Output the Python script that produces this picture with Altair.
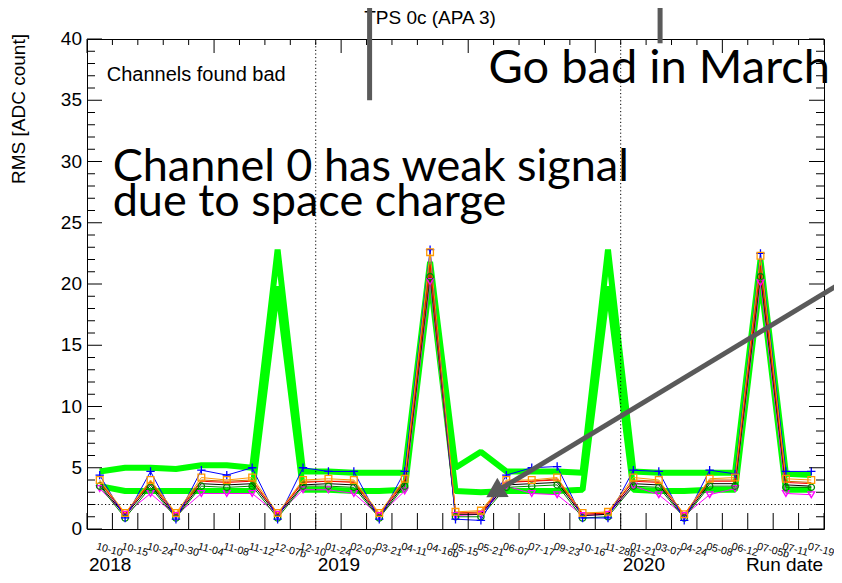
import altair as alt
import pandas as pd

# ---------------- data ----------------
run_labels = ["10-10", "10-15", "10-24", "10-30", "11-04", "11-08", "11-12", "12-07b", "12-10",
              "01-24", "02-07", "03-21", "04-11", "04-16b", "05-15", "05-21", "06-07", "07-17",
              "09-23", "10-16", "11-28b", "01-21", "03-07", "04-24", "05-08", "06-12", "07-05b",
              "07-11", "07-19"]
years = ["2018", "2019", "2020"]
year_first_bin = [0, 9, 21]
year_boundaries = [9, 21]
threshold = [2.0]
y_major = [0, 5, 10, 15, 20, 25, 30, 35, 40]

# thick green: channels found bad
bad_upper = [4.7, 5.0, 5.0, 4.9, 5.2, 5.2, 5.0, 22.8, 4.7, 4.7, 4.6, 4.6, 4.6, 21.8, 5.0, 6.3,
             4.7, 4.7, 4.7, 4.6, 22.8, 4.7, 4.6, 4.6, 4.6, 4.6, 22.0, 4.5, 4.4]
bad_lower = [3.5, 3.1, 3.1, 3.1, 3.1, 3.1, 3.1, 19.8, 3.2, 3.2, 3.1, 3.1, 3.2, 20.5, 3.1, 3.0,
             3.1, 3.1, 3.1, 3.2, 19.8, 3.2, 3.1, 3.1, 3.2, 3.2, 20.5, 3.2, 3.2]

# thin channel series
ch_magenta = [3.3, 1.2, 2.9, 1.1, 2.9, 2.9, 2.9, 1.2, 3.2, 3.2, 2.9, 1.1, 3.1, 20.2, 1.1, 1.2,
              3.5, 2.9, 2.8, 1.1, 1.2, 3.5, 2.8, 1.1, 2.8, 3.3, 20.1, 2.9, 2.8]
ch_dkgreen = [3.5, 0.9, 3.4, 0.9, 3.5, 3.4, 3.5, 0.9, 3.5, 3.5, 3.4, 0.9, 3.5, 20.6, 1.0, 1.0,
              3.4, 3.5, 3.6, 0.9, 1.0, 3.5, 3.4, 0.9, 3.5, 3.5, 20.6, 3.4, 3.4]
ch_black = [3.6, 1.1, 3.6, 1.0, 3.7, 3.6, 3.7, 1.1, 3.6, 3.7, 3.6, 1.0, 3.7, 21.0, 1.2, 1.2,
            3.6, 3.7, 3.8, 1.1, 1.2, 3.7, 3.6, 1.0, 3.7, 3.7, 20.9, 3.6, 3.5]
ch_brown = [3.9, 1.2, 3.9, 1.2, 4.0, 3.9, 4.0, 1.2, 3.9, 3.9, 3.9, 1.2, 4.0, 21.2, 1.3, 1.4,
            3.9, 3.9, 4.1, 1.3, 1.3, 4.0, 3.9, 1.2, 4.0, 4.0, 21.2, 3.9, 3.8]
ch_red = [3.8, 1.2, 3.8, 1.1, 3.9, 3.8, 3.9, 1.2, 3.8, 3.9, 3.8, 1.1, 3.9, 21.6, 1.3, 1.3,
          3.8, 3.9, 4.0, 1.2, 1.3, 3.9, 3.8, 1.1, 3.9, 3.9, 21.5, 3.8, 3.7]
ch_blue = [4.4, 0.9, 4.7, 0.8, 4.8, 4.4, 5.0, 0.8, 5.0, 4.7, 4.7, 0.8, 4.7, 22.8, 0.8, 0.7,
           4.4, 5.0, 5.1, 0.9, 0.9, 4.8, 4.7, 0.7, 4.8, 4.5, 22.5, 4.7, 4.7]
ch_orange = [4.0, 1.3, 4.0, 1.3, 4.2, 4.0, 4.2, 1.3, 4.0, 4.1, 4.0, 1.3, 4.1, 22.6, 1.4, 1.5,
             4.0, 4.0, 4.2, 1.3, 1.4, 4.2, 4.0, 1.2, 4.1, 4.2, 22.3, 4.1, 4.0]

# (values, colour, marker shape or None, marker size)
channels = [
    (ch_magenta, "#ff00ff", "triangle-down", 45),
    (ch_dkgreen, "#008800", "circle", 40),
    (ch_black, "#000000", None, 0),
    (ch_brown, "#cc6600", None, 0),
    (ch_red, "#ff0000", None, 0),
    (ch_blue, "#0000ff", "M-1,0L1,0M0,-1L0,1", 70),
    (ch_orange, "#ff9900", "square", 45),
]

# ---------------- layout ----------------
W, H = 737, 490
FONT = "Liberation Sans"
n = len(run_labels)
xs = alt.Scale(domain=[0, n], nice=False, zero=False)
ys = alt.Scale(domain=[0, 40], nice=False, zero=False)


def X(field="x"):
    return alt.X(f"{field}:Q", scale=xs, axis=None)


def Y(field="rms"):
    return alt.Y(f"{field}:Q", scale=ys, axis=None)


def frame(values):
    return pd.DataFrame({"x": [i + 0.5 for i in range(len(values))], "rms": values})


layers = []
for vals in [bad_upper, bad_lower]:
    layers.append(alt.Chart(frame(vals)).mark_line(
        color="#00ff00", strokeWidth=6, strokeJoin="bevel").encode(x=X(), y=Y()))

for vals, col, shape, size in channels:
    layers.append(alt.Chart(frame(vals)).mark_line(color=col, strokeWidth=1).encode(x=X(), y=Y()))
for vals, col, shape, size in channels:
    if shape:
        layers.append(alt.Chart(frame(vals)).mark_point(
            shape=shape, size=size, filled=False, color=col, strokeWidth=1.3, opacity=1
        ).encode(x=X(), y=Y()))

dot_style = dict(color="black", strokeWidth=1, strokeDash=[1.2, 2.4])
layers.append(alt.Chart(pd.DataFrame({"x": year_boundaries})).mark_rule(**dot_style).encode(
    x=X(), y=alt.value(0), y2=alt.value(H)))
layers.append(alt.Chart(pd.DataFrame({"rms": threshold})).mark_rule(**dot_style).encode(
    y=Y(), x=alt.value(0), x2=alt.value(W)))

# inward ticks (ROOT style)
edges = pd.DataFrame({"x": list(range(n + 1))})
edges["major"] = edges["x"] % 5 == 0
ticks_y = pd.DataFrame({"rms": list(range(41))})
ticks_y["major"] = ticks_y["rms"] % 5 == 0
tk = dict(color="black", strokeWidth=1)
layers.append(alt.Chart(edges).mark_rule(**tk).encode(x=X(), y=alt.value(H), y2=alt.value(H - 16)))
layers.append(alt.Chart(edges[~edges.major]).mark_rule(**tk).encode(
    x=X(), y=alt.value(0), y2=alt.value(6)))
layers.append(alt.Chart(edges[edges.major]).mark_rule(**tk).encode(
    x=X(), y=alt.value(0), y2=alt.value(14)))
for sel, ln in [(ticks_y.major, 15), (~ticks_y.major, 8)]:
    d = ticks_y[sel]
    layers.append(alt.Chart(d).mark_rule(**tk).encode(y=Y(), x=alt.value(0), x2=alt.value(ln)))
    layers.append(alt.Chart(d).mark_rule(**tk).encode(y=Y(), x=alt.value(W), x2=alt.value(W - ln)))

# axis labels drawn as text
txt = dict(font=FONT, color="black")
layers.append(alt.Chart(pd.DataFrame({"x": [i + 0.5 for i in range(n)], "lab": run_labels}))
              .mark_text(align="left", baseline="top", angle=15, fontSize=10.5, dx=-2, **txt)
              .encode(x=X(), y=alt.value(H + 13), text="lab:N"))
layers.append(alt.Chart(pd.DataFrame({"rms": y_major}))
              .mark_text(align="right", baseline="middle", fontSize=19, dx=-5, **txt)
              .encode(y=Y(), x=alt.value(0), text="rms:Q"))
layers.append(alt.Chart(pd.DataFrame({"x": year_first_bin, "year": years}))
              .mark_text(align="left", baseline="alphabetic", fontSize=19, dx=2, **txt)
              .encode(x=X(), y=alt.value(H + 42), text="year:N"))
layers.append(alt.Chart(pd.DataFrame({"t": ["Run date"]}))
              .mark_text(align="right", baseline="alphabetic", fontSize=19, **txt)
              .encode(x=alt.value(W - 1), y=alt.value(H + 42), text="t:N"))
layers.append(alt.Chart(pd.DataFrame({"t": ["RMS [ADC count]"]}))
              .mark_text(align="right", baseline="middle", fontSize=19, angle=270, **txt)
              .encode(x=alt.value(-68), y=alt.value(-5), text="t:N"))
layers.append(alt.Chart(pd.DataFrame({"t": ["TPS 0c (APA 3)"]}))
              .mark_text(align="center", baseline="middle", fontSize=19, **txt)
              .encode(x=alt.value(343), y=alt.value(-21), text="t:N"))

# legend-like caption
layers.append(alt.Chart(pd.DataFrame({"x": [0.775], "rms": [37.1], "t": ["Channels found bad"]}))
              .mark_text(align="left", baseline="middle", fontSize=20, **txt)
              .encode(x=X(), y=Y(), text="t:N"))

# slide annotations
notes = pd.DataFrame({
    "x": [15.8, 1.01, 1.01],
    "rms": [36.38, 28.4, 25.55],
    "t": ["Go bad in March", "Channel 0 has weak signal", "due to space charge"],
    "fs": [47, 45, 45],
})
layers.append(alt.Chart(notes).mark_text(align="left", baseline="alphabetic", font="Lato",
                                         color="black").encode(
    x=X(), y=Y(), text="t:N", size=alt.Size("fs:Q", scale=None, legend=None)))

gray = "#5a5a5a"
segs = pd.DataFrame({
    "x": [11.12, 22.55, 29.69],
    "x2": [11.12, 22.55, 16.04],
    "rms": [43.5, 43.5, 20.1],
    "rms2": [35.0, 39.65, 2.99],
})
layers.append(alt.Chart(segs).mark_rule(color=gray, strokeWidth=5).encode(
    x=X(), x2="x2:Q", y=Y(), y2="rms2:Q"))
layers.append(alt.Chart(pd.DataFrame({"x": [16.04], "rms": [2.99]})).mark_point(
    shape="triangle-up", size=500, filled=True, color=gray, opacity=1, angle=239.5).encode(
    x=X(), y=Y()))

chart = alt.layer(*layers).properties(
    width=W, height=H,
    autosize=alt.AutoSizeParams(type="none"),
    padding={"left": 79, "top": 31, "right": 10, "bottom": 46},
).configure_view(stroke="black", strokeWidth=1)

chart.save("out.html", embed_options={"renderer": "svg", "actions": False})
